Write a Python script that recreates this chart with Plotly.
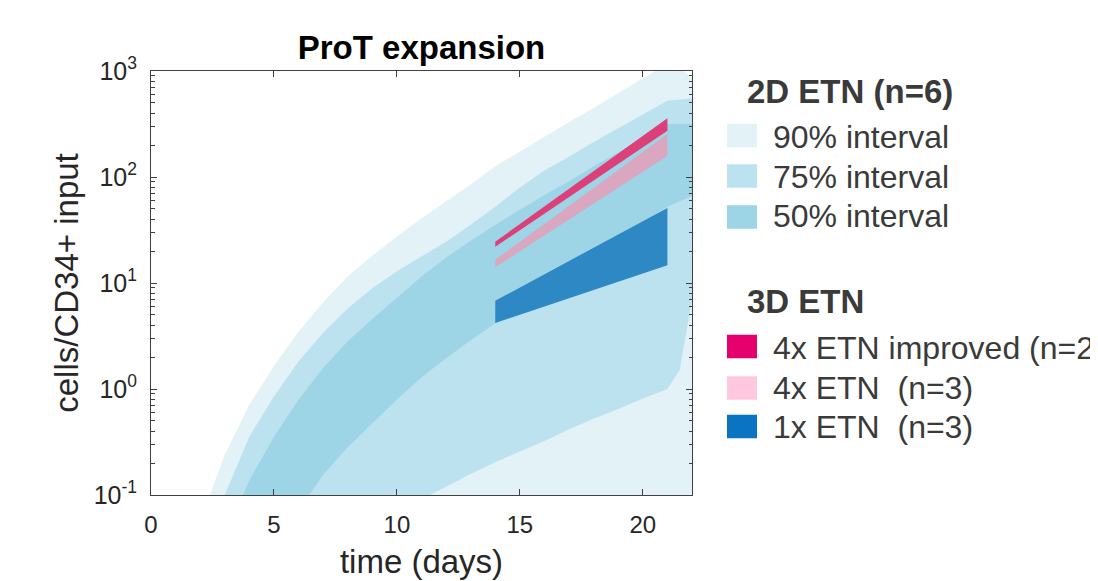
import plotly.graph_objects as go

# ---------------- data ----------------
days = [0, 1, 2, 3, 4, 5, 6, 7, 8, 9, 10, 11, 12, 13, 14, 15, 16, 17, 18, 19, 20, 21, 21.5, 22]

# 2D ETN (n=6) percentile band bounds (cells / CD34+ input)
upper_90 = [0.001, 0.008, 0.056, 0.24, 0.71, 1.66, 3.47, 6.6, 11.5, 18.2, 27.5, 40.7, 58.9, 85.1,
            126, 174, 240, 331, 447, 617, 851, 1175, 1047, 871]
upper_75 = [0.0003, 0.0025, 0.022, 0.1, 0.355, 0.85, 1.82, 3.39, 5.75, 8.91, 12.9, 17.8, 24.5, 35.5,
            52.5, 79.4, 115, 155, 214, 288, 389, 525, 537, 550]
upper_50 = [0.0001, 0.0006, 0.0063, 0.04, 0.138, 0.355, 0.79, 1.58, 2.82, 4.57, 7.24, 11.5, 17.4, 25.1,
            35.5, 49, 67.6, 91.2, 126, 170, 234, 316, 316, 316]
lower_50 = [0.00001, 0.00003, 0.0001, 0.0015, 0.0063, 0.025, 0.071, 0.155, 0.282, 0.468, 0.794, 1.29,
            1.95, 2.88, 4.17, 6.03, 8.71, 12.3, 17.8, 25.7, 37.2, 52.5, 58.9, 66.1]
lower_75 = [0.000001, 0.000003, 0.00001, 0.00003, 0.0001, 0.0003, 0.001, 0.004, 0.01, 0.025, 0.063,
            0.091, 0.12, 0.158, 0.204, 0.257, 0.324, 0.417, 0.525, 0.646, 0.813, 1.0, 1.51, 7.0]
lower_90 = [1e-7, 3e-7, 1e-6, 3e-6, 1e-5, 3e-5, 1e-4, 2e-4, 4e-4, 7e-4, 0.001, 0.0015, 0.002, 0.003,
            0.004, 0.005, 0.007, 0.009, 0.012, 0.016, 0.02, 0.025, 0.028, 0.03]

# 3D ETN ranges at day 14 and day 21
etn_days = [14, 21]
improved_lo = [22.0, 273]
improved_hi = [24.5, 359]
x4_lo = [14.1, 158]
x4_hi = [16.6, 254]
x1_lo = [4.2, 14.7]
x1_hi = [6.8, 51]

y_tickvals = [0.1, 1, 10, 100, 1000]
y_ticktext = ["10<sup>-1</sup>", "10<sup>0</sup>", "10<sup>1</sup>", "10<sup>2</sup>", "10<sup>3</sup>"]
x_tickvals = [0, 5, 10, 15, 20]

legend_2d_title = "2D ETN (n=6)"
legend_2d_labels = ["90% interval", "75% interval", "50% interval"]
legend_3d_title = "3D ETN"
legend_3d_labels = ["4x ETN improved (n=2)", "4x ETN\u00a0 (n=3)", "1x ETN\u00a0 (n=3)"]

# ---------------- style ----------------
C90, C75, C50 = "#E3F2F7", "#BBE2EE", "#9ED5E6"
C_IMP_PLOT, C_X4_PLOT, C_X1_PLOT = "#DD3F79", "#D9A7BF", "#2E88C4"
C_IMP_LEG, C_X4_LEG, C_X1_LEG = "#E5006D", "#FFC8DE", "#0A73C2"
FONT = "Liberation Sans, Arial, Helvetica, sans-serif"
TXT = "#262626"
LEGTXT = "#3a3a3a"

OFF = 8  # page body margin of the html
W, H = 1098 - OFF, 581 - OFF
L, R, T, B = 151 - OFF, 692 - OFF, 71 - OFF, 495 - OFF


def band(x, lo, hi, color, name):
    return go.Scatter(x=list(x) + list(x)[::-1], y=list(hi) + list(lo)[::-1],
                      fill="toself", fillcolor=color, mode="lines", line=dict(width=0),
                      name=name, showlegend=False, hoverinfo="skip")


fig = go.Figure()
fig.add_trace(band(days, lower_90, upper_90, C90, legend_2d_labels[0]))
fig.add_trace(band(days, lower_75, upper_75, C75, legend_2d_labels[1]))
fig.add_trace(band(days, lower_50, upper_50, C50, legend_2d_labels[2]))
fig.add_trace(band(etn_days, x1_lo, x1_hi, C_X1_PLOT, legend_3d_labels[2]))
fig.add_trace(band(etn_days, x4_lo, x4_hi, C_X4_PLOT, legend_3d_labels[1]))
fig.add_trace(band(etn_days, improved_lo, improved_hi, C_IMP_PLOT, legend_3d_labels[0]))


def px2x(px):
    return (px - OFF - L) / (R - L)


def py2y(py):
    return (B - (py - OFF)) / (B - T)


shapes = []
annotations = []
sw_x0, sw_x1, txt_x, title_x = 727, 757, 772, 746
sw_h = 23.5
legend_rows = [
    (legend_2d_labels[0], C90, 135.5, 137),
    (legend_2d_labels[1], C75, 176.0, 176.5),
    (legend_2d_labels[2], C50, 217.0, 215.5),
    (legend_3d_labels[0], C_IMP_LEG, 346.5, 348),
    (legend_3d_labels[1], C_X4_LEG, 388.0, 388),
    (legend_3d_labels[2], C_X1_LEG, 426.5, 427),
]
for label, col, yc, yt in legend_rows:
    shapes.append(dict(type="rect", xref="paper", yref="paper",
                       x0=px2x(sw_x0), x1=px2x(sw_x1),
                       y0=py2y(yc + sw_h / 2), y1=py2y(yc - sw_h / 2),
                       fillcolor=col, line=dict(width=0), layer="above"))
    annotations.append(dict(xref="paper", yref="paper", x=px2x(txt_x), y=py2y(yt),
                            xanchor="left", yanchor="middle", text=label, showarrow=False,
                            font=dict(family=FONT, size=32, color=LEGTXT), borderpad=0))
for ttl, yt in [(legend_2d_title, 91.5), (legend_3d_title, 301)]:
    annotations.append(dict(xref="paper", yref="paper", x=px2x(title_x), y=py2y(yt),
                            xanchor="left", yanchor="middle", text="<b>" + ttl + "</b>",
                            showarrow=False, borderpad=0,
                            font=dict(family=FONT, size=33, color=LEGTXT)))

minor_vals = [m * 10 ** e for e in range(-1, 3) for m in range(2, 10)]

fig.update_layout(
    width=W, height=H,
    margin=dict(l=L, r=W - R, t=T, b=H - B, autoexpand=False),
    paper_bgcolor="white", plot_bgcolor="white",
    showlegend=False,
    font=dict(family=FONT, color=TXT),
    title=dict(text="<b>ProT expansion</b>", x=0.5, xref="paper", xanchor="center",
               y=1 - (47 - OFF) / H, yref="container", yanchor="middle",
               font=dict(family=FONT, size=33, color="#000000")),
    shapes=shapes,
    annotations=annotations,
)
fig.update_xaxes(range=[0, 22], tickvals=x_tickvals, ticks="inside", ticklen=6, tickwidth=1,
                 tickcolor="#404040", mirror="allticks", showline=True, linecolor="#404040",
                 linewidth=1, showgrid=False, zeroline=False,
                 tickfont=dict(size=24, color=TXT), ticklabelstandoff=8,
                 title=dict(text="time (days)", font=dict(size=33, color=TXT), standoff=13))
fig.update_yaxes(type="log", range=[-1, 3], tickvals=y_tickvals, ticktext=y_ticktext,
                 ticks="inside", ticklen=6, tickwidth=1, tickcolor="#404040",
                 minor=dict(tickvals=minor_vals, ticks="inside", ticklen=3.5, tickcolor="#404040"),
                 mirror="allticks", showline=True, linecolor="#404040", linewidth=1,
                 showgrid=False, zeroline=False,
                 tickfont=dict(size=25, color=TXT), ticklabelstandoff=8,
                 title=dict(text="cells/CD34+ input", font=dict(size=33, color=TXT), standoff=5))

fig.write_html("out.html")
